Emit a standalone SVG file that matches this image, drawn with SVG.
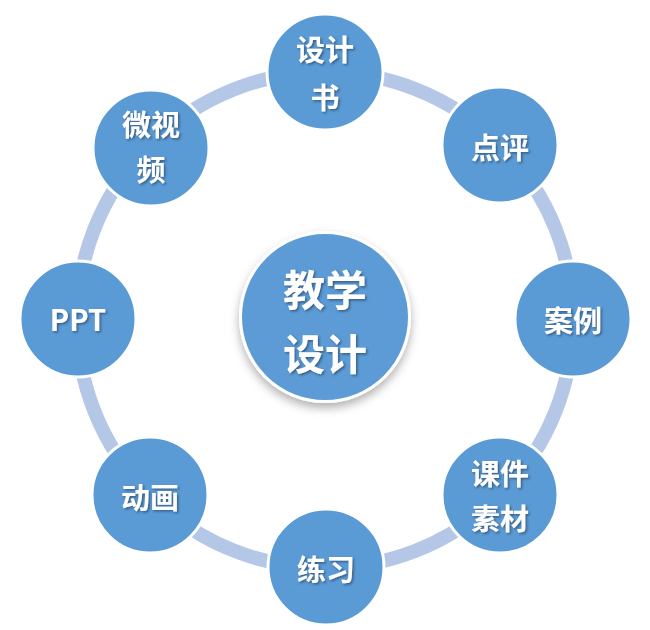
<svg xmlns="http://www.w3.org/2000/svg" width="650" height="630" viewBox="0 0 650 630">
<defs>
<style>
.ring{fill:none;stroke:#b4c7e7;stroke-width:14}
.node{fill:#5b9bd5;stroke:#ffffff;stroke-width:3}
.lbl{fill:#ffffff;font-family:"Noto Sans CJK SC","Liberation Sans",sans-serif;font-weight:bold;font-size:29px;text-anchor:middle;dominant-baseline:central}
.big{font-size:42px}
</style>
<filter id="ts" x="-20%" y="-20%" width="140%" height="140%">
<feDropShadow dx="1.5" dy="1.5" stdDeviation="1" flood-color="#1f3550" flood-opacity="0.6"/>
</filter>
<filter id="cs" x="-20%" y="-20%" width="140%" height="150%">
<feDropShadow dx="0" dy="5" stdDeviation="5" flood-color="#000000" flood-opacity="0.3"/>
</filter>
</defs>
<rect width="650" height="630" fill="#ffffff"/>
<g id="connectors">
<circle class="ring" cx="325" cy="320" r="248"/>
</g>
<g id="center">
<circle class="node" cx="325" cy="317" r="84.5" filter="url(#cs)"/>
<text class="lbl big" x="325" y="287" filter="url(#ts)">教学</text>
<text class="lbl big" x="325" y="351" filter="url(#ts)">设计</text>
</g>
<g id="n-shejishu">
<circle class="node" cx="325" cy="72" r="58"/>
<text class="lbl" x="325" y="48" filter="url(#ts)">设计</text>
<text class="lbl" x="325" y="96" filter="url(#ts)">书</text>
</g>
<g id="n-dianping">
<circle class="node" cx="500" cy="145" r="58"/>
<text class="lbl" x="500" y="146" filter="url(#ts)">点评</text>
</g>
<g id="n-anli">
<circle class="node" cx="573" cy="319" r="58"/>
<text class="lbl" x="573" y="319" filter="url(#ts)">案例</text>
</g>
<g id="n-kejian">
<circle class="node" cx="500" cy="495" r="58"/>
<text class="lbl" x="500" y="472" filter="url(#ts)">课件</text>
<text class="lbl" x="500" y="517" filter="url(#ts)">素材</text>
</g>
<g id="n-lianxi">
<circle class="node" cx="326" cy="567" r="58"/>
<text class="lbl" x="326" y="568" filter="url(#ts)">练习</text>
</g>
<g id="n-donghua">
<circle class="node" cx="150" cy="495" r="58"/>
<text class="lbl" x="150" y="496" filter="url(#ts)">动画</text>
</g>
<g id="n-ppt">
<circle class="node" cx="78" cy="319" r="58"/>
<text class="lbl" x="78" y="318" filter="url(#ts)">PPT</text>
</g>
<g id="n-weishipin">
<circle class="node" cx="151" cy="148" r="58"/>
<text class="lbl" x="151" y="123" filter="url(#ts)">微视</text>
<text class="lbl" x="151" y="168" filter="url(#ts)">频</text>
</g>
</svg>
